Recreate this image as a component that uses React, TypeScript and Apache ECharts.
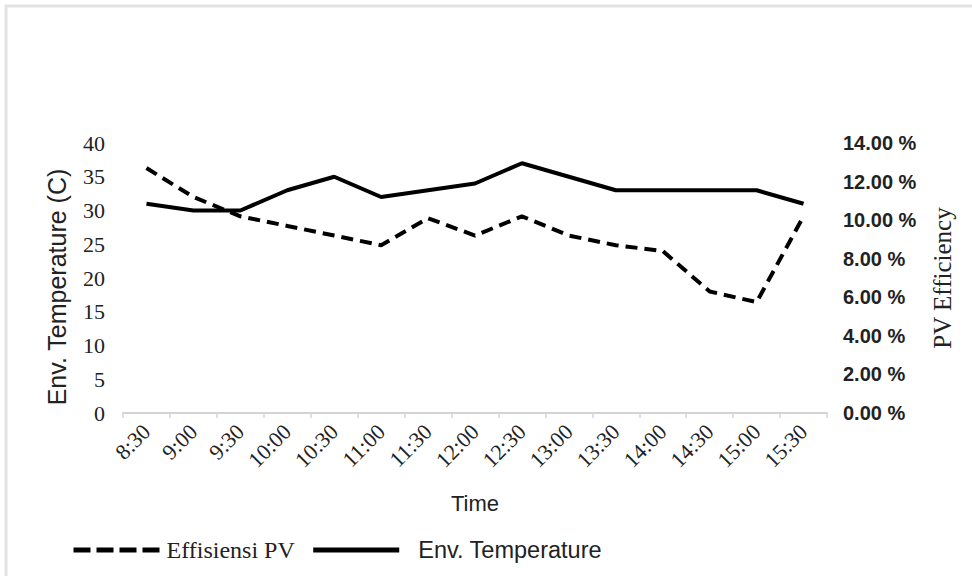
import React, { useEffect, useRef } from "react";
import * as echarts from "echarts";

const times = ["8:30", "9:00", "9:30", "10:00", "10:30", "11:00", "11:30", "12:00", "12:30", "13:00", "13:30", "14:00", "14:30", "15:00", "15:30"];
const efficiencyPV = [12.7, 11.2, 10.2, 9.7, 9.2, 8.7, 10.1, 9.2, 10.2, 9.2, 8.7, 8.4, 6.3, 5.75, 10.2];
const envTemperature = [31, 30, 30, 33, 35, 32, 33, 34, 37, 35, 33, 33, 33, 33, 31];

const SERIF = "'Liberation Serif', 'Times New Roman', serif";
const SANS = "'Liberation Sans', Arial, sans-serif";

export default function App() {
  const ref = useRef<HTMLDivElement>(null);
  useEffect(() => {
    if (!ref.current) return;
    const chart = echarts.init(ref.current, undefined, { renderer: "svg" });
    chart.setOption({
      animation: false,
      backgroundColor: "#ffffff",
      graphic: [
        {
          type: "rect",
          shape: { x: 6, y: 6, width: 1000, height: 1000 },
          style: { fill: "none", stroke: "#e3e3e3", lineWidth: 3 },
          silent: true,
        },
      ],
      grid: { left: 123, right: 145, top: 143, bottom: 163 },
      legend: {
        left: 66,
        top: 533,
        itemWidth: 86,
        itemHeight: 14,
        itemGap: 16,
        data: [
          {
            name: "Effisiensi PV",
            itemStyle: { opacity: 0 },
            lineStyle: { color: "#000", width: 5, type: [17, 6] },
          },
          {
            name: "Env. Temperature",
            itemStyle: { opacity: 0 },
            lineStyle: { color: "#000", width: 5, type: "solid" },
          },
        ],
        formatter: (name: string) => (name === "Effisiensi PV" ? `{s|${name}}` : `{n|${name}}`),
        textStyle: {
          color: "#222",
          rich: {
            s: { fontFamily: SERIF, fontSize: 24, color: "#222", padding: [0, 0, 0, 2] },
            n: { fontFamily: SANS, fontSize: 23.5, color: "#222", padding: [0, 0, 0, 14] },
          },
        },
      },
      xAxis: {
        type: "category",
        data: times,
        boundaryGap: true,
        name: "Time",
        nameLocation: "middle",
        nameGap: 79,
        nameTextStyle: { fontFamily: SANS, fontSize: 22, color: "#222" },
        axisLine: { show: true, lineStyle: { color: "#d4d4d4", width: 2 } },
        axisTick: { show: true, length: 5, lineStyle: { color: "#d4d4d4", width: 1.5 } },
        axisLabel: { rotate: 45, margin: 15, fontFamily: SERIF, fontSize: 22, color: "#222" },
      },
      yAxis: [
        {
          type: "value",
          min: 0,
          max: 40,
          interval: 5,
          name: "Env. Temperature (C)",
          nameLocation: "middle",
          nameRotate: 90,
          nameGap: 54,
          nameTextStyle: { fontFamily: SANS, fontSize: 25, color: "#222", padding: [0, 18, 0, 0] },
          axisLine: { show: false },
          axisTick: { show: false },
          splitLine: { show: false },
          axisLabel: { margin: 18, fontFamily: SERIF, fontSize: 22, color: "#222" },
        },
        {
          type: "value",
          min: 0,
          max: 14,
          interval: 2,
          position: "right",
          name: "PV Efficiency",
          nameLocation: "middle",
          nameRotate: 90,
          nameGap: 103,
          nameTextStyle: { fontFamily: SERIF, fontSize: 25, color: "#222" },
          axisLine: { show: false },
          axisTick: { show: false },
          splitLine: { show: false },
          axisLabel: {
            margin: 16,
            fontFamily: SANS,
            fontWeight: "bold",
            fontSize: 20,
            color: "#222",
            formatter: (v: number) => v.toFixed(2) + " %",
          },
        },
      ],
      series: [
        {
          name: "Effisiensi PV",
          type: "line",
          yAxisIndex: 1,
          data: efficiencyPV,
          symbol: "none",
          color: "#000",
          lineStyle: { color: "#000", width: 4, type: [12, 7] },
        },
        {
          name: "Env. Temperature",
          type: "line",
          yAxisIndex: 0,
          data: envTemperature,
          symbol: "none",
          color: "#000",
          lineStyle: { color: "#000", width: 4 },
        },
      ],
    });
    return () => chart.dispose();
  }, []);
  return <div ref={ref} style={{ position: "fixed", left: 0, top: 0, width: 972, height: 576 }} />;
}
